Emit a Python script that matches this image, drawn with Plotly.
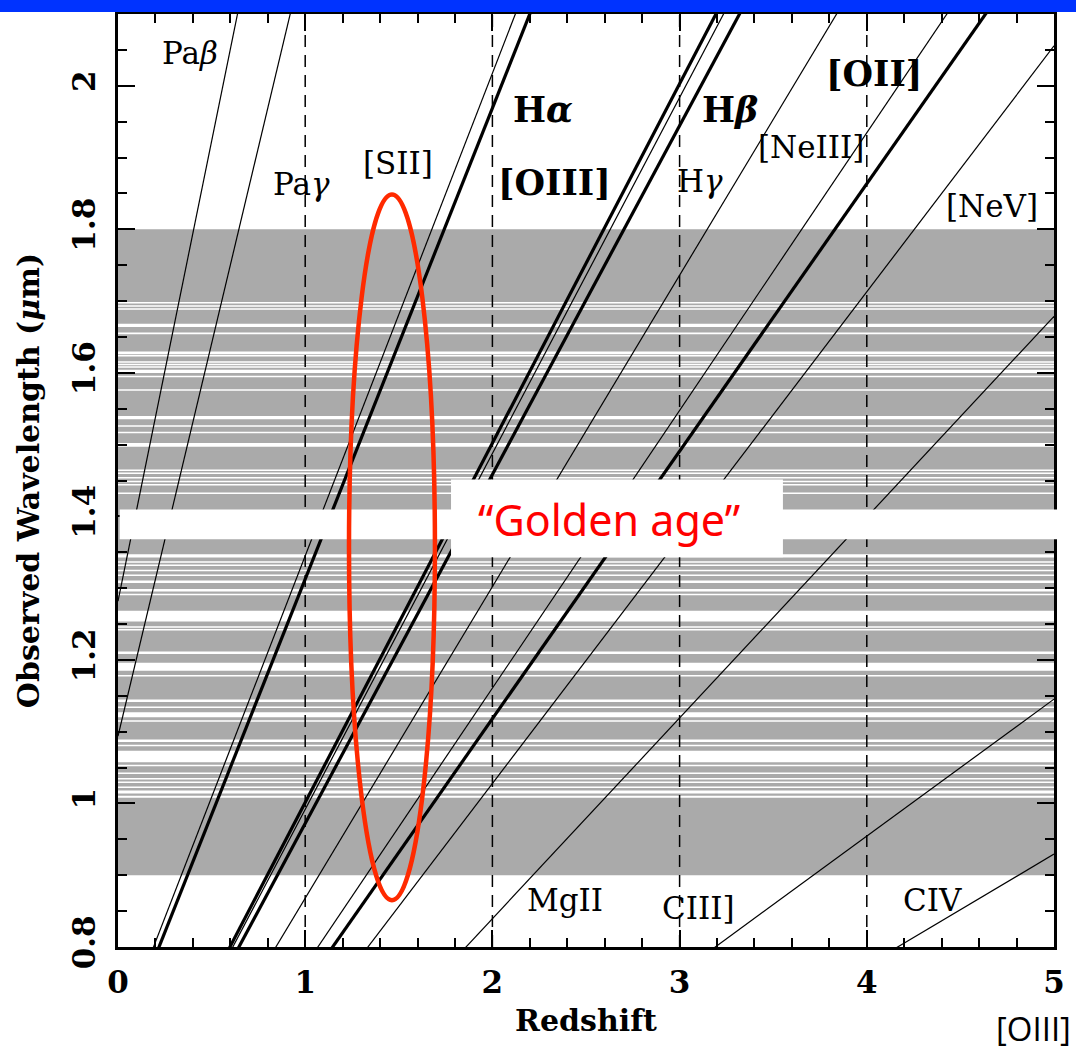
import plotly.graph_objects as go

# ---------------- data ----------------
# emission lines: name, rest wavelength (micron), drawn thick?
line_names = ["Pa-beta", "Pa-gamma", "[SII]", "H-alpha", "[OIII]5007", "[OIII]4959",
              "H-beta", "H-gamma", "[NeIII]", "[OII]", "[NeV]", "MgII", "CIII]", "CIV"]
line_rest_um = [1.2818, 1.0938, 0.6725, 0.6563, 0.5007, 0.4959,
                0.4861, 0.4340, 0.3869, 0.3727, 0.3426, 0.2798, 0.1909, 0.1549]
line_thick = [False, False, False, True, True, False,
              True, False, False, True, False, False, False, False]

redshift_grid = [0.0, 5.0]
dashed_redshifts = [1, 2, 3, 4]

# atmospheric window (grey band) and OH sky-line gaps (white), microns
window_lo, window_hi = 0.9, 1.8
oh_center = [1.6976, 1.6930, 1.6890, 1.6660, 1.6550, 1.6280, 1.6240, 1.6150, 1.6115,
             1.6080, 1.6020, 1.5950, 1.5760, 1.5375, 1.5260, 1.5170, 1.4996, 1.4643,
             1.4600, 1.4540, 1.4486, 1.4440, 1.4324,
             1.3450, 1.3366, 1.3320, 1.3246, 1.3180, 1.3090, 1.2970, 1.2910, 1.2610,
             1.2460, 1.2420, 1.2100, 1.1905, 1.1780, 1.1430, 1.1340, 1.1235, 1.1150,
             1.0875, 1.0806, 1.0655, 1.0528, 1.0420, 1.0343, 1.0296, 1.0226, 1.0160,
             1.0095]
oh_width = [0.0021, 0.0021, 0.0021, 0.0045, 0.0021, 0.0035, 0.0021, 0.0021, 0.0021,
            0.0021, 0.0045, 0.0021, 0.0021, 0.0045, 0.0021, 0.0021, 0.0050, 0.0021,
            0.0021, 0.0021, 0.0021, 0.0021, 0.0021,
            0.0045, 0.0021, 0.0021, 0.0021, 0.0021, 0.0035, 0.0035, 0.0021, 0.0150,
            0.0021, 0.0021, 0.0035, 0.0110, 0.0021, 0.0035, 0.0021, 0.0070, 0.0021,
            0.0035, 0.0021, 0.0160, 0.0021, 0.0021, 0.0021, 0.0021, 0.0021, 0.0040,
            0.0028]

# labels: text, redshift, wavelength, bold
label_text = ["Pa<i>β</i>", "Pa<i>γ</i>", "[SII]", "H<i>α</i>", "[OIII]", "H<i>β</i>",
              "H<i>γ</i>", "[NeIII]", "[OII]", "[NeV]", "MgII", "CIII]", "CIV"]
label_z = [0.385, 0.978, 1.496, 2.27, 2.33, 3.27, 3.11, 3.70, 4.04, 4.67, 2.39, 3.10, 4.35]
label_wl = [2.046, 1.863, 1.893, 1.967, 1.865, 1.967, 1.868, 1.914, 2.017, 1.833,
            0.865, 0.854, 0.865]
label_bold = [False, False, False, True, True, True, False, False, True, False,
              False, False, False]

x_ticks = [0, 1, 2, 3, 4, 5]
y_ticks = [0.8, 1.0, 1.2, 1.4, 1.6, 1.8, 2.0]
y_tick_text = ["0.8", "1", "1.2", "1.4", "1.6", "1.8", "2"]

# ---------------- figure ----------------
SERIF = "DejaVu Serif"
fig = go.Figure()

shapes = []
# grey window
shapes.append(dict(type="rect", xref="paper", yref="y", x0=0, x1=1,
                   y0=window_lo, y1=window_hi, fillcolor="#aaaaaa",
                   line=dict(width=0), layer="below"))
# white OH gaps
for c, w in zip(oh_center, oh_width):
    shapes.append(dict(type="rect", xref="paper", yref="y", x0=0, x1=1,
                       y0=c - w / 2, y1=c + w / 2, fillcolor="white",
                       line=dict(width=0), layer="below"))

# dashed redshift markers
for zc in dashed_redshifts:
    fig.add_trace(go.Scatter(x=[zc, zc], y=[0.8, 2.1], mode="lines",
                             line=dict(color="black", width=1.5, dash="12px,8px"),
                             hoverinfo="skip", showlegend=False))

# emission lines
for name, lam, thick in zip(line_names, line_rest_um, line_thick):
    ys = [lam * (1 + z) for z in redshift_grid]
    fig.add_trace(go.Scatter(x=redshift_grid, y=ys, mode="lines", name=name,
                             line=dict(color="black", width=3.2 if thick else 1.2),
                             hoverinfo="skip", showlegend=False))

annotations = []
for t, zx, wl, b in zip(label_text, label_z, label_wl, label_bold):
    annotations.append(dict(x=zx, y=wl, xref="x", yref="y", text=t, showarrow=False,
                            xanchor="center", yanchor="middle",
                            font=dict(family=SERIF, size=35 if b else 31, color="black",
                                      weight="bold" if b else "normal")))

# slide overlays: white band, golden-age box, red ellipse, blue header bar
shapes.append(dict(type="rect", xref="paper", yref="y", x0=0.0018, x1=1.03,
                   y0=1.3681, y1=1.4097, fillcolor="white", line=dict(width=0),
                   layer="above"))
shapes.append(dict(type="rect", xref="x", yref="y", x0=1.779, x1=3.552,
                   y0=1.3431, y1=1.4514, fillcolor="white", line=dict(width=0),
                   layer="above"))
shapes.append(dict(type="circle", xref="x", yref="y", x0=1.234, x1=1.693,
                   y0=0.8653, y1=1.8486, line=dict(color="#ff2a00", width=4.5),
                   fillcolor="rgba(0,0,0,0)", layer="above"))
shapes.append(dict(type="rect", xref="paper", yref="paper", x0=-0.14, x1=1.04,
                   y0=1.0021, y1=1.03, fillcolor="#0033ff", line=dict(width=0),
                   layer="above"))

annotations.append(dict(x=2.623, y=1.396, xref="x", yref="y", text="“Golden age”",
                        showarrow=False, xanchor="center", yanchor="middle",
                        font=dict(family="Comic Sans MS, Noto Sans", size=43, color="#ff0000")))
annotations.append(dict(x=1.0205, y=-0.087, xref="paper", yref="paper", text="[OIII]",
                        showarrow=False, xanchor="right", yanchor="middle",
                        font=dict(family="Open Sans", size=33, color="black")))

fig.update_layout(
    width=1076, height=1052,
    margin=dict(l=118, r=22, t=11, b=105),
    paper_bgcolor="white", plot_bgcolor="white",
    shapes=shapes, annotations=annotations,
    showlegend=False,
)
fig.update_xaxes(
    range=[0, 5], tickvals=x_ticks, ticks="inside", ticklen=17, tickwidth=2,
    tickcolor="black", showline=True, linewidth=2.5, linecolor="black", mirror="ticks",
    showgrid=False, zeroline=False,
    minor=dict(dtick=0.2, ticks="inside", ticklen=9, tickwidth=2, tickcolor="black", showgrid=False),
    tickfont=dict(family=SERIF, size=31, color="black", weight="bold"),
    ticklabelstandoff=6,
    title=dict(text="Redshift", font=dict(family=SERIF, size=30, color="black", weight="bold"),
               standoff=12),
)
fig.update_yaxes(
    range=[0.8, 2.1], tickvals=y_ticks, ticktext=y_tick_text, tickangle=-90,
    ticks="inside", ticklen=17, tickwidth=2,
    tickcolor="black", showline=True, linewidth=2.5, linecolor="black", mirror="ticks",
    showgrid=False, zeroline=False,
    minor=dict(dtick=0.05, tick0=0.8, ticks="inside", ticklen=9, tickwidth=2, tickcolor="black", showgrid=False),
    tickfont=dict(family=SERIF, size=31, color="black", weight="bold"),
    ticklabelstandoff=8,
    title=dict(text="Observed Wavelength (<i>μ</i>m)",
               font=dict(family=SERIF, size=30, color="black", weight="bold"), standoff=18),
)

fig.write_html("out.html")
